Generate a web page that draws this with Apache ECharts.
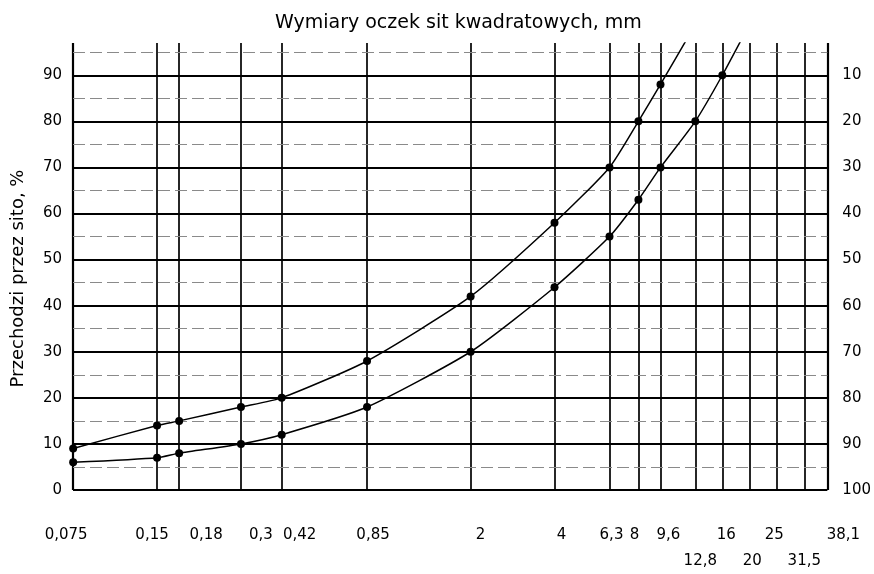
<!DOCTYPE html>
<html lang="pl">
<head>
    <meta charset="UTF-8">
    <title>Krzywe uziarnienia</title>
    <script src="https://cdn.jsdelivr.net/npm/echarts@6/dist/echarts.min.js"></script>
</head>
<body style="margin:0">
<div id="my" style="width:874px;height:574px"></div>
<script>
    // wymiary oczek sit, mm (os x logarytmiczna)
    var sita = [0.075, 0.15, 0.18, 0.3, 0.42, 0.85, 2, 4, 6.3, 8, 9.6, 12.8, 16, 20, 25, 31.5, 38.1]
    var etykiety = ['0,075', '0,15', '0,18', '0,3', '0,42', '0,85', '2', '4', '6,3', '8', '9,6', '12,8', '16', '20', '25', '31,5', '38,1']
    // przechodzi przez sito, % - kolejno dla sit z tablicy sita
    // ostatnia wartosc to miejsce, gdzie krzywa wychodzi poza gore siatki (bez punktu)
    var gorna = [9, 14, 15, 18, 20, 28, 42, 58, 70, 80, 88, 101]
    var dolna = [6, 7, 8, 10, 12, 18, 30, 44, 55, 63, 70, 80, 90, 101]
    var poziomeGlowne = [0, 10, 20, 30, 40, 50, 60, 70, 80, 90]
    var poziomePomocnicze = [5, 15, 25, 35, 45, 55, 65, 75, 85, 95]
    var gora = 97 // gdzie koncza sie linie siatki

    // wyglad podpisow pod siatka
    var drugiRzad = ['12,8', '20', '31,5']
    var przesuniecie = {'0,075': -7, '0,15': -5, '0,18': 27, '0,3': 20, '0,42': 18, '0,85': 6, '2': 10, '4': 7,
        '6,3': 2, '8': -4, '9,6': 8, '12,8': 5, '16': 4, '20': 3, '25': -2, '31,5': 0, '38,1': 16}

    var czcionka = 'DejaVu Sans'

    function punkty(wartosci) {
        return wartosci.map(function (v, i) {
            var p = {value: [sita[i], v]}
            if (i === wartosci.length - 1) p.symbol = 'none'
            return p
        })
    }

    var pionowe = sita.map(function (s, i) {
        var t = etykiety[i]
        var d = przesuniecie[t] || 0
        return [
            {
                coord: [s, 0],
                lineStyle: {width: (i === 0 || i === sita.length - 1) ? 2.2 : 1.7},
                label: {
                    formatter: t,
                    distance: drugiRzad.indexOf(t) >= 0 ? 64 : 38,
                    padding: d >= 0 ? [0, 0, 0, 2 * d] : [0, -2 * d, 0, 0]
                }
            },
            {coord: [s, gora]}
        ]
    })
    var poziome = poziomeGlowne.map(function (v) {
        return {yAxis: v, lineStyle: {color: '#000', width: 1.9, type: 'solid'}}
    }).concat(poziomePomocnicze.map(function (v) {
        return {yAxis: v, lineStyle: {color: '#8a8a8a', width: 1, type: [12, 5]}}
    }))

    var mCharts = echarts.init(document.getElementById('my'))
    var option = {
        animation: false,
        backgroundColor: '#fff',
        textStyle: {fontFamily: czcionka},
        title: {
            text: 'Wymiary oczek sit kwadratowych, mm',
            left: 270,
            top: 9,
            textStyle: {fontFamily: czcionka, fontSize: 19, fontWeight: 'normal', color: '#000'}
        },
        grid: {left: 73, right: 46, top: 43, bottom: 84},
        xAxis: {
            type: 'log',
            min: 0.0749,
            max: 38.11,
            axisLine: {show: false},
            axisTick: {show: false},
            axisLabel: {show: false},
            splitLine: {show: false}
        },
        yAxis: [
            {
                type: 'value',
                min: 0,
                max: gora,
                interval: 10,
                name: 'Przechodzi przez sito, %',
                nameLocation: 'middle',
                nameGap: 46,
                nameTextStyle: {fontFamily: czcionka, fontSize: 18, color: '#000', padding: [0, 24, 0, 0]},
                axisLine: {show: false},
                axisTick: {show: false},
                splitLine: {show: false},
                axisLabel: {
                    margin: 11,
                    fontSize: 15,
                    color: '#000',
                    formatter: function (v) { return v % 10 === 0 ? v : '' }
                }
            },
            {
                type: 'value',
                position: 'right',
                min: 0,
                max: gora,
                interval: 10,
                axisLine: {show: false},
                axisTick: {show: false},
                splitLine: {show: false},
                axisLabel: {
                    margin: 15,
                    fontSize: 15,
                    color: '#000',
                    formatter: function (v) { return v % 10 === 0 ? 100 - v : '' }
                }
            }
        ],
        series: [
            {
                name: 'siatka',
                type: 'line',
                data: [],
                silent: true,
                markLine: {
                    silent: true,
                    z: 1,
                    symbol: ['none', 'none'],
                    animation: false,
                    lineStyle: {color: '#000', type: 'solid'},
                    label: {show: true, position: 'start', fontSize: 15, color: '#000', fontFamily: czcionka},
                    emphasis: {disabled: true},
                    data: pionowe
                }
            },
            {
                name: 'pozioma siatka',
                type: 'line',
                data: [],
                silent: true,
                markLine: {
                    silent: true,
                    z: 1,
                    symbol: ['none', 'none'],
                    animation: false,
                    label: {show: false},
                    emphasis: {disabled: true},
                    data: poziome
                }
            },
            {
                name: 'gorna',
                type: 'line',
                z: 3,
                smooth: 0.2,
                symbol: 'circle',
                symbolSize: 8,
                itemStyle: {color: '#000'},
                lineStyle: {color: '#000', width: 1.5},
                data: punkty(gorna)
            },
            {
                name: 'dolna',
                type: 'line',
                z: 3,
                smooth: 0.2,
                symbol: 'circle',
                symbolSize: 8,
                itemStyle: {color: '#000'},
                lineStyle: {color: '#000', width: 1.5},
                data: punkty(dolna)
            }
        ]
    }
    mCharts.setOption(option)
</script>
</body>
</html>
